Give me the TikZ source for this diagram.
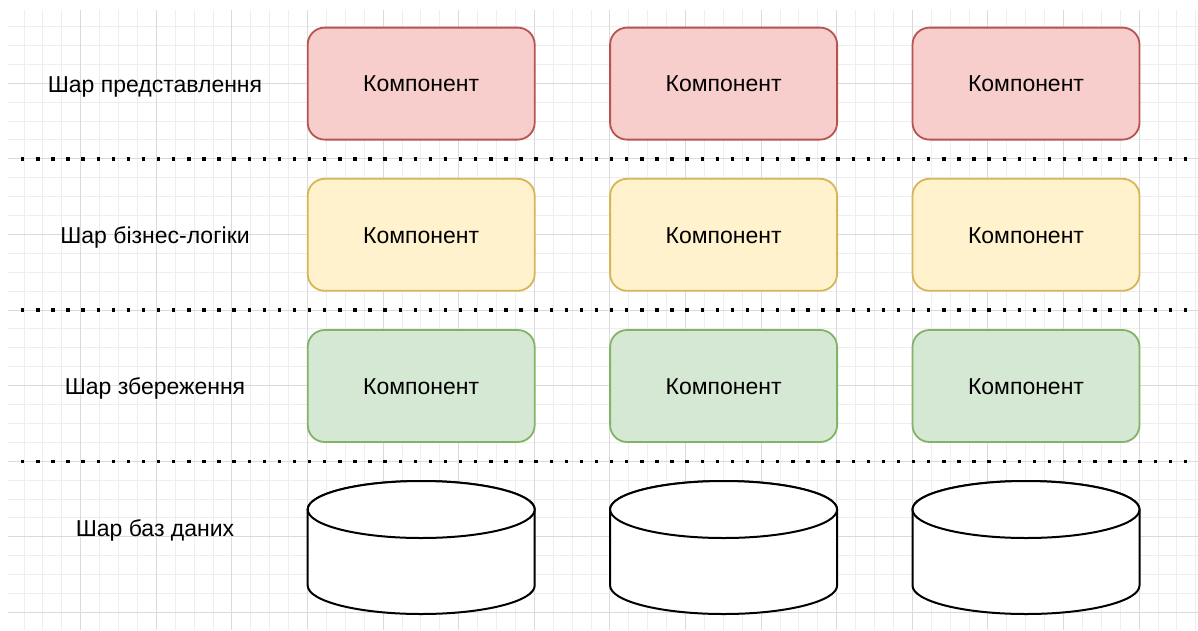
\documentclass[tikz,border=0pt]{standalone}
\usepackage{fontspec}
\setmainfont{Liberation Sans}
\definecolor{gridminor}{HTML}{EEEEEE}
\definecolor{gridmajor}{HTML}{DADADA}
\definecolor{redfill}{HTML}{F8CECC}
\definecolor{redline}{HTML}{B85450}
\definecolor{yelfill}{HTML}{FFF2CC}
\definecolor{yelline}{HTML}{D6B656}
\definecolor{grnfill}{HTML}{D5E8D4}
\definecolor{grnline}{HTML}{82B366}
\tikzset{
  minorline/.style={draw=gridminor, line width=1pt},
  majorline/.style={draw=gridmajor, line width=1pt},
  comp/.style={rectangle, rounded corners=17pt, line width=1.8pt,
    minimum width=227pt, minimum height=112pt, inner sep=0pt,
    text height=16.5pt, text depth=0pt,
    font=\fontsize{23}{27}\selectfont},
  layerlabel/.style={font=\fontsize{23}{27}\selectfont, inner sep=0pt,
    text height=16.5pt, text depth=0pt},
  sepline/.style={line width=3.4pt, dash pattern=on 3.4pt off 11.7pt, black},
  dbshape/.style={draw=black, fill=white, line width=2pt},
}
\begin{document}
\begin{tikzpicture}[x=1pt,y=-1pt]
\useasboundingbox (0,0) rectangle (1198,630);
\fill[white] (0,0) rectangle (1198,630);
% background grid
\begin{scope}
  \clip (8,10) rectangle (1198,630);
  \foreach \i in {-16,...,47} {
    \draw[minorline] ({307.5+\i*18.9},0) -- ({307.5+\i*18.9},630);
  }
  \foreach \j in {-16,...,17} {
    \draw[minorline] (0,{310+\j*18.9}) -- (1198,{310+\j*18.9});
  }
  \foreach \i in {-4,...,12} {
    \draw[majorline] ({307.5+\i*75.6},0) -- ({307.5+\i*75.6},630);
  }
  \foreach \j in {-4,...,4} {
    \draw[majorline] (0,{310+\j*75.6}) -- (1198,{310+\j*75.6});
  }
\end{scope}
% layer separators
\coordinate (s1a) at (21,158.8);  \coordinate (s1b) at (1192,158.8);
\coordinate (s2a) at (21,310);    \coordinate (s2b) at (1192,310);
\coordinate (s3a) at (21,461.2);  \coordinate (s3b) at (1192,461.2);
\draw[sepline] (s1a) -- (s1b);
\draw[sepline] (s2a) -- (s2b);
\draw[sepline] (s3a) -- (s3b);
% layer labels
\node[layerlabel] (l1) at (155,84) {Шар представлення};
\node[layerlabel] (l2) at (155,235.2) {Шар бізнес-логіки};
\node[layerlabel] (l3) at (155,386.4) {Шар збереження};
\node[layerlabel] (l4) at (155,528.6) {Шар баз даних};
% components
\foreach \c/\x in {1/421.2, 2/723.6, 3/1026} {
  \node[comp, fill=redfill, draw=redline] (p\c) at (\x,83.6) {Компонент};
  \node[comp, fill=yelfill, draw=yelline] (b\c) at (\x,234.8) {Компонент};
  \node[comp, fill=grnfill, draw=grnline] (s\c) at (\x,386) {Компонент};
  % database cylinder
  \coordinate (d\c) at (\x,509.5);
  \draw[dbshape] ([xshift=-113.5pt]d\c) -- ++(0,76)
    arc[start angle=180, end angle=360, x radius=113.5pt, y radius=28.5pt]
    -- ++(0,-76)
    arc[start angle=0, end angle=180, x radius=113.5pt, y radius=28.5pt] -- cycle;
  \draw[dbshape] (d\c) ellipse[x radius=113.5pt, y radius=28.5pt];
}
\end{tikzpicture}
\end{document}
